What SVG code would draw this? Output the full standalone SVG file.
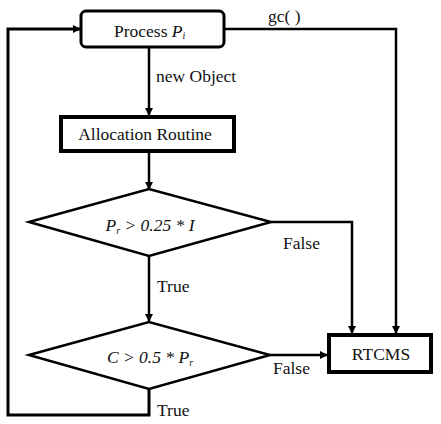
<svg xmlns="http://www.w3.org/2000/svg" width="441" height="424" viewBox="0 0 441 424">
<style>
.box{fill:#fff;stroke:#000}
.ln{fill:none;stroke:#000;stroke-width:2.5}
.t{font-family:'Liberation Serif','Times New Roman',serif;font-size:17.5px;fill:#111}
.i{font-style:italic}
.sub{font-size:10px;font-style:italic}
</style>
<defs>
<marker id="ah" markerWidth="8" markerHeight="8" refX="7" refY="4" orient="auto" markerUnits="userSpaceOnUse">
<path d="M0,0 L8,4 L0,8 Z" fill="#000"/>
</marker>
</defs>
<rect width="441" height="424" fill="#fff"/>
<g id="connectors">
<path class="ln" d="M149,47 V115" marker-end="url(#ah)"/>
<path class="ln" d="M149,152 V189" marker-end="url(#ah)"/>
<path class="ln" d="M149,256 V321" marker-end="url(#ah)"/>
<path class="ln" d="M271,222 H352 V333" marker-end="url(#ah)"/>
<path class="ln" d="M224,29 H396 V333" marker-end="url(#ah)"/>
<path class="ln" d="M270,355 H327" marker-end="url(#ah)"/>
<path class="ln" style="stroke-width:3" d="M149,389 V415 H8 V29 H80" marker-end="url(#ah)"/>
<text class="t" x="268" y="22">gc( )</text>
<text class="t" x="156" y="82">new Object</text>
<text class="t" x="283" y="249">False</text>
<text class="t" x="157" y="292">True</text>
<text class="t" x="273" y="374">False</text>
<text class="t" x="157" y="416">True</text>
</g>
<g id="process">
<rect class="box" x="81" y="11" width="143" height="36" rx="5" stroke-width="3"/>
<text class="t" x="114" y="37">Process <tspan class="i">P</tspan><tspan class="sub" dy="2">i</tspan></text>
</g>
<g id="allocation">
<rect class="box" x="61" y="117" width="173" height="34" stroke-width="4"/>
<text class="t" x="145" y="140" text-anchor="middle">Allocation Routine</text>
</g>
<g id="decision1">
<polygon class="box" stroke-width="2.5" points="29,222 149,189 271,222 149,256"/>
<text class="t i" x="150" y="231" text-anchor="middle"><tspan>P</tspan><tspan class="sub" dy="3">r</tspan><tspan dy="-3"> &gt; 0.25 * I</tspan></text>
</g>
<g id="decision2">
<polygon class="box" stroke-width="2.5" points="29,355 149,322 270,355 149,389"/>
<text class="t i" x="150" y="363" text-anchor="middle"><tspan>C &gt; 0.5 * P</tspan><tspan class="sub" dy="3">r</tspan></text>
</g>
<g id="rtcms">
<rect class="box" x="329" y="335" width="102" height="37" stroke-width="4"/>
<text class="t" x="381" y="360" text-anchor="middle">RTCMS</text>
</g>
</svg>
